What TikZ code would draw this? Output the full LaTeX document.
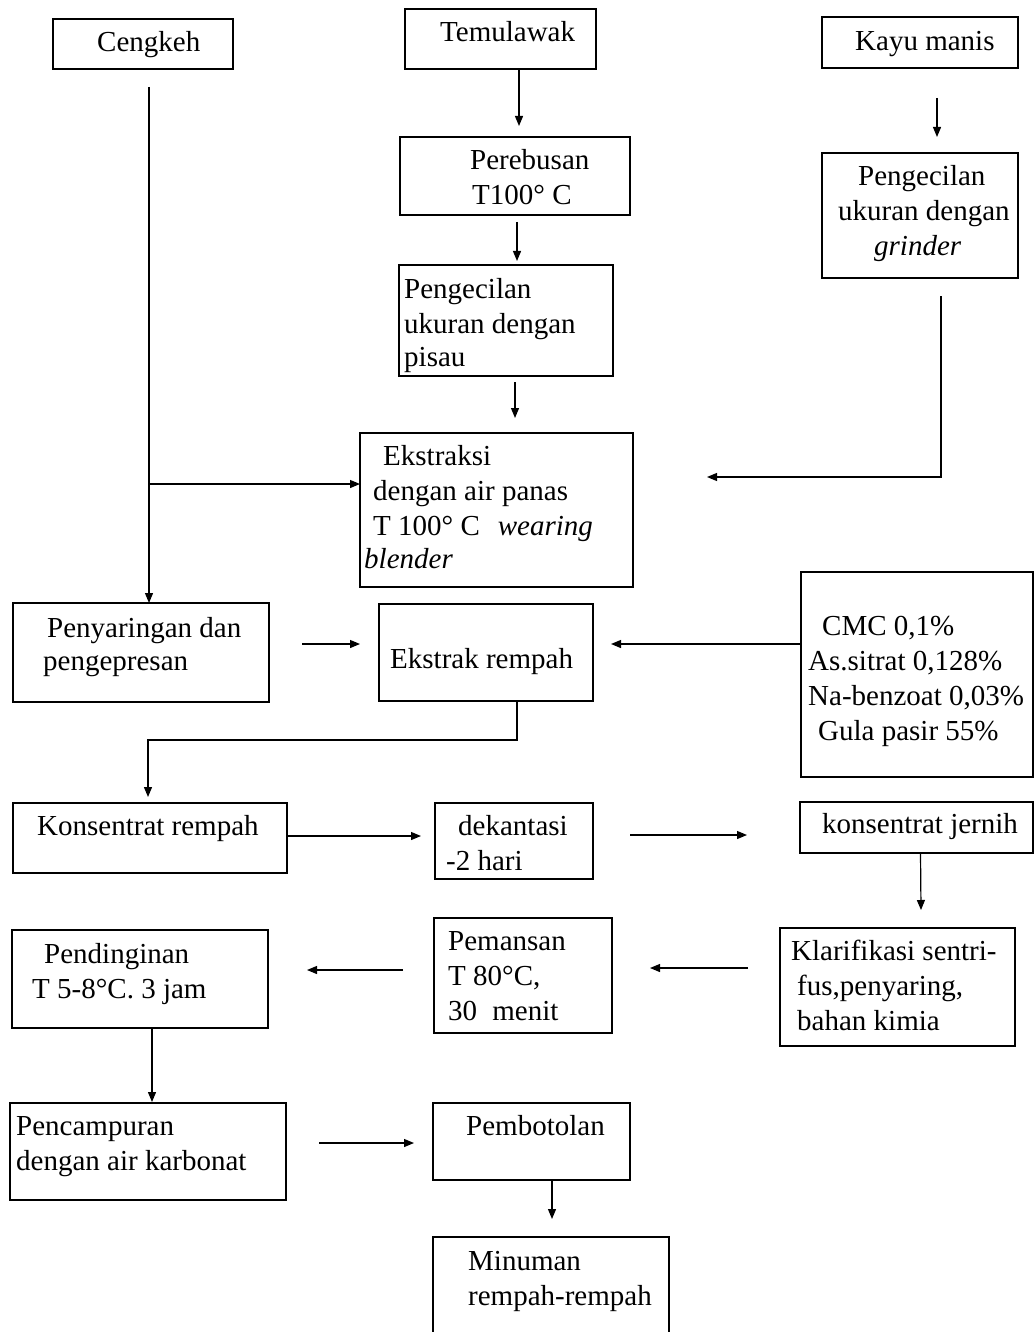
\documentclass[tikz,border=0pt]{standalone}
\usepackage{fontspec}
\setmainfont{Liberation Serif}
\usetikzlibrary{arrows.meta,calc}
\begin{document}
\begin{tikzpicture}[x=1pt,y=-1pt,
  box/.style={draw, line width=1.3pt, anchor=north west, inner sep=0pt, outer sep=0pt},
  tx/.style={anchor=base west, inner sep=0pt, font=\fontsize{29}{35}\selectfont},
  arr/.style={line width=1.2pt, -{Triangle[length=10pt,width=8pt]}}]
\clip (0,0) rectangle (1035,1332);
\fill[white] (0,0) rectangle (1035,1332);
% boxes
\node[box, minimum width=180pt, minimum height=50pt]  (ceng)   at (53,19)  {};
\node[box, minimum width=191pt, minimum height=60pt]  (temu)   at (405,9)  {};
\node[box, minimum width=196pt, minimum height=51pt]  (kayu)   at (822,17) {};
\node[box, minimum width=230pt, minimum height=78pt]  (rebus)  at (400,137) {};
\node[box, minimum width=214pt, minimum height=111pt] (pisau)  at (399,265) {};
\node[box, minimum width=196pt, minimum height=125pt] (grind)  at (822,153) {};
\node[box, minimum width=273pt, minimum height=154pt] (ekstr)  at (360,433) {};
\node[box, minimum width=256pt, minimum height=99pt]  (saring) at (13,603) {};
\node[box, minimum width=214pt, minimum height=97pt]  (ekrem)  at (379,604) {};
\node[box, minimum width=232pt, minimum height=205pt] (addit)  at (801,572) {};
\node[box, minimum width=274pt, minimum height=70pt]  (konsr)  at (13,803) {};
\node[box, minimum width=158pt, minimum height=76pt]  (dekan)  at (435,803) {};
\node[box, minimum width=233pt, minimum height=51pt]  (jernih) at (800,802) {};
\node[box, minimum width=235pt, minimum height=118pt] (klar)   at (780,928) {};
\node[box, minimum width=178pt, minimum height=115pt] (pemn)   at (434,918) {};
\node[box, minimum width=256pt, minimum height=98pt]  (pend)   at (12,930) {};
\node[box, minimum width=276pt, minimum height=97pt]  (pencm)  at (10,1103) {};
\node[box, minimum width=197pt, minimum height=77pt]  (botol)  at (433,1103) {};
\node[box, minimum width=236pt, minimum height=130pt] (minum)  at (433,1237) {};
% texts
\node[tx] (t1)  at (97,52)   {Cengkeh};
\node[tx] (t2)  at (440,42)  {Temulawak};
\node[tx] (t3)  at (855,51)  {Kayu manis};
\node[tx] (t4)  at (470,170) {Perebusan};
\node[tx] (t5)  at (472,205) {T100° C};
\node[tx] (t6)  at (404,298) {Pengecilan};
\node[tx] (t7)  at (404,333) {ukuran dengan};
\node[tx] (t8)  at (404,366) {pisau};
\node[tx] (t9)  at (858,186) {Pengecilan};
\node[tx] (t10) at (838,221) {ukuran dengan};
\node[tx] (t11) at (874,255) {\itshape grinder};
\node[tx] (t12) at (383,465) {Ekstraksi};
\node[tx] (t13) at (373,500) {dengan air panas};
\node[tx] (t14) at (373,535) {T 100° C\hspace{18pt}\itshape wearing};
\node[tx] (t15) at (364,568) {\itshape blender};
\node[tx] (t16) at (47,637)  {Penyaringan dan};
\node[tx] (t17) at (43,670)  {pengepresan};
\node[tx] (t18) at (390,668) {Ekstrak rempah};
\node[tx] (t19) at (822,635) {CMC 0,1\%};
\node[tx] (t20) at (808,670) {As.sitrat 0,128\%};
\node[tx] (t21) at (808,705) {Na-benzoat 0,03\%};
\node[tx] (t22) at (818,740) {Gula pasir 55\%};
\node[tx] (t23) at (37,835)  {Konsentrat rempah};
\node[tx] (t24) at (458,835) {dekantasi};
\node[tx] (t25) at (446,870) {-2 hari};
\node[tx] (t26) at (822,833) {konsentrat jernih};
\node[tx] (t27) at (44,963)  {Pendinginan};
\node[tx] (t28) at (32,998)  {T 5-8°C. 3 jam};
\node[tx] (t29) at (448,950) {Pemansan};
\node[tx] (t30) at (448,985) {T 80°C,};
\node[tx] (t31) at (448,1020) {30\hspace{8pt} menit};
\node[tx] (t32) at (791,960) {Klarifikasi sentri-};
\node[tx] (t33) at (797,995) {fus,penyaring,};
\node[tx] (t34) at (797,1030) {bahan kimia};
\node[tx] (t35) at (16,1135) {Pencampuran};
\node[tx] (t36) at (16,1170) {dengan air karbonat};
\node[tx] (t37) at (466,1135) {Pembotolan};
\node[tx] (t38) at (468,1270) {Minuman};
\node[tx] (t39) at (468,1305) {rempah-rempah};
% connectors
\draw[arr] ($(temu.south)+(18.5,0)$) -- ($(rebus.north)+(4,-11)$);
\draw[arr] ($(rebus.south)+(2,7)$) -- ($(pisau.north)+(11,-4)$);
\draw[arr] ($(pisau.south)+(9,6)$) -- ($(ekstr.north)+(18.5,-15)$);
\draw[arr] ($(kayu.south)+(17,30)$) -- ($(grind.north)+(17,-16)$);
\coordinate (kend) at (707,477);
\draw[arr] ($(grind.south)+(21,18)$) |- (kend);
\draw[arr] ($(ceng.south)+(6,18)$) -- ($(saring.north)+(8,0)$);
\coordinate (br) at (149,484);
\draw[arr] (br) -- (br -| ekstr.west);
\draw[arr] ($(saring.east)+(33,-8.5)$) -- ($(ekrem.west)+(-19,-8.5)$);
\draw[arr] ($(addit.west)+(0,-30.5)$) -- ($(ekrem.east)+(18,-8.5)$);
\draw[arr] ($(ekrem.south)+(31,0)$) -- ++(0,39) -| ($(konsr.north)+(-2,-6)$);
\draw[arr] ($(konsr.east)+(0,-2)$) -- ($(dekan.west)+(-14,-5)$);
\draw[arr] ($(dekan.east)+(37,-6)$) -- ($(jernih.west)+(-53,7.5)$);
\draw[arr] ($(jernih.south)+(4,0)$) -- ($(klar.north)+(23.5,-18)$);
\draw[arr] ($(klar.west)+(-32,-19)$) -- ($(pemn.east)+(38,-7.5)$);
\draw[arr] ($(pemn.west)+(-31,-5.5)$) -- ($(pend.east)+(39,-9)$);
\draw[arr] ($(pend.south)+(12,0)$) -- ($(pencm.north)+(4,-1)$);
\draw[arr] ($(pencm.east)+(33,-8.5)$) -- ($(botol.west)+(-19,1.5)$);
\draw[arr] ($(botol.south)+(20.5,0)$) -- ($(minum.north)+(1,-18)$);
\end{tikzpicture}
\end{document}
